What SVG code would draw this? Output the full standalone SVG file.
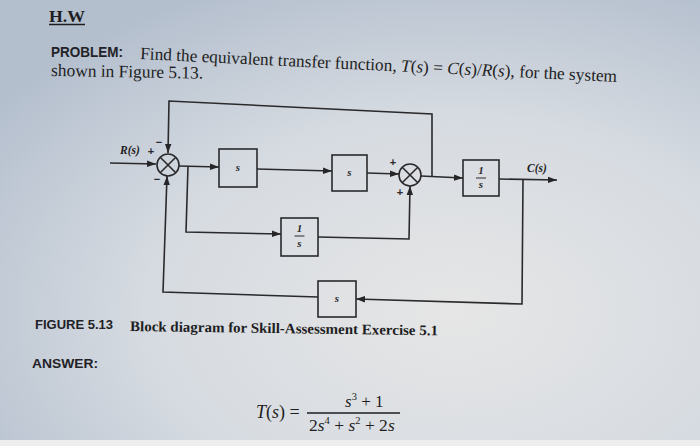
<svg xmlns="http://www.w3.org/2000/svg" width="700" height="446" viewBox="0 0 700 446">
<defs>
<radialGradient id="bg" cx="0.65" cy="0.7" r="0.8">
<stop offset="0" stop-color="#e6e6e6"/>
<stop offset="0.55" stop-color="#d6dbe1"/>
<stop offset="1" stop-color="#b4bfce"/>
</radialGradient>
<marker id="arr" markerWidth="10" markerHeight="8" refX="9" refY="4" orient="auto" markerUnits="userSpaceOnUse">
<path d="M0,0.8 L9,4 L0,7.2 Z" fill="#262628"/>
</marker>
<style>
.ln{fill:none;stroke:#2a2a2c;stroke-width:1.6}
.blk{fill:none;stroke:#2a2a2c;stroke-width:1.6}
.sj{fill:none;stroke:#2a2a2c;stroke-width:1.6}
.ser{font-family:"Liberation Serif",serif;fill:#1e1e22}
.san{font-family:"Liberation Sans",sans-serif;font-weight:bold;fill:#222226}
.it{font-style:italic}
.bs{font-family:"Liberation Serif",serif;font-style:italic;font-weight:bold;font-size:11px;fill:#2a2a2c;text-anchor:middle}
.sg{font-family:"Liberation Sans",sans-serif;font-size:11px;font-weight:bold;fill:#2a2a2c;text-anchor:middle}
</style>
</defs>
<rect width="700" height="446" fill="url(#bg)"/>
<rect y="440" width="700" height="6" fill="#eeeeee"/>

<g id="header">
<text class="ser" x="49" y="22" font-size="17.5" font-weight="bold" textLength="36" lengthAdjust="spacingAndGlyphs">H.W</text>
<line x1="49" y1="24.5" x2="85" y2="24.5" stroke="#1e1e22" stroke-width="1.4"/>
<text class="san" x="51" y="57" font-size="14.5" textLength="72" lengthAdjust="spacingAndGlyphs">PROBLEM:</text>
<text class="ser" x="140" y="59" font-size="17.3" transform="rotate(2.76 140 59)">Find the equivalent transfer function, <tspan class="it">T</tspan>(<tspan class="it">s</tspan>) = <tspan class="it">C</tspan>(<tspan class="it">s</tspan>)/<tspan class="it">R</tspan>(<tspan class="it">s</tspan>), for the system</text>
<text class="ser" x="51" y="76" font-size="17.5" transform="rotate(1 51 76)" textLength="152" lengthAdjust="spacingAndGlyphs">shown in Figure 5.13.</text>
</g>

<g id="connectors">
<line class="ln" x1="110" y1="163" x2="156" y2="164" marker-end="url(#arr)"/>
<polyline class="ln" points="432,176 432,114 169,101 168,153" marker-end="url(#arr)"/>
<line class="ln" x1="179" y1="166" x2="219" y2="167" marker-end="url(#arr)"/>
<polyline class="ln" points="188,166 186,232 281,234" marker-end="url(#arr)"/>
<line class="ln" x1="257" y1="169" x2="332" y2="171" marker-end="url(#arr)"/>
<polyline class="ln" points="318,237 409,239 410,186" marker-end="url(#arr)"/>
<line class="ln" x1="367" y1="173" x2="399" y2="174" marker-end="url(#arr)"/>
<line class="ln" x1="421" y1="176" x2="463" y2="178" marker-end="url(#arr)"/>
<line class="ln" x1="499" y1="179" x2="557" y2="180" marker-end="url(#arr)"/>
<polyline class="ln" points="523,180 522,304 356,299" marker-end="url(#arr)"/>
<polyline class="ln" points="318,297 163,292 167,176" marker-end="url(#arr)"/>
</g>

<g id="sum1">
<circle class="sj" cx="168" cy="165" r="11"/>
<line class="sj" x1="160.2" y1="157.2" x2="175.8" y2="172.8"/>
<line class="sj" x1="175.8" y1="157.2" x2="160.2" y2="172.8"/>
<text class="sg" x="151" y="155">+</text>
<text class="sg" x="159" y="146">−</text>
<text class="sg" x="157" y="183">−</text>
<text class="ser it" x="120" y="154" font-size="11.5" font-weight="bold">R(s)</text>
</g>

<g id="block1">
<rect class="blk" x="219" y="149" width="38" height="38"/>
<text class="bs" x="238" y="171">s</text>
</g>

<g id="block2">
<rect class="blk" x="332" y="155" width="35" height="36"/>
<text class="bs" x="349.5" y="176">s</text>
</g>

<g id="sum2">
<circle class="sj" cx="410" cy="175" r="11"/>
<line class="sj" x1="402.2" y1="167.2" x2="417.8" y2="182.8"/>
<line class="sj" x1="417.8" y1="167.2" x2="402.2" y2="182.8"/>
<text class="sg" x="393" y="166">+</text>
<text class="sg" x="400" y="196">+</text>
</g>

<g id="block3">
<rect class="blk" x="463" y="160" width="36" height="36"/>
<text class="bs" x="481" y="174">1</text>
<line x1="476" y1="178" x2="486" y2="178" stroke="#2a2a2c" stroke-width="1"/>
<text class="bs" x="481" y="188">s</text>
<text class="ser it" x="527" y="172" font-size="11.5" font-weight="bold">C(s)</text>
</g>

<g id="block4">
<rect class="blk" x="281" y="218" width="37" height="38"/>
<text class="bs" x="299.5" y="232">1</text>
<line x1="294.5" y1="236" x2="304.5" y2="236" stroke="#2a2a2c" stroke-width="1"/>
<text class="bs" x="299.5" y="247">s</text>
</g>

<g id="block5">
<rect class="blk" x="318" y="281" width="38" height="36"/>
<text class="bs" x="337" y="302">s</text>
</g>

<g id="caption">
<text class="san" x="35" y="329" font-size="13" textLength="78" lengthAdjust="spacingAndGlyphs">FIGURE 5.13</text>
<text class="ser" x="130" y="331" font-size="14.5" font-weight="bold" transform="rotate(0.8 130 331)" textLength="308" lengthAdjust="spacingAndGlyphs">Block diagram for Skill-Assessment Exercise 5.1</text>
<text class="san" x="32" y="368" font-size="13.5" textLength="66" lengthAdjust="spacingAndGlyphs">ANSWER:</text>
</g>

<g id="answer">
<text class="ser" x="256" y="418" font-size="18"><tspan class="it">T</tspan>(<tspan class="it">s</tspan>) =</text>
<line x1="307" y1="413" x2="400" y2="413" stroke="#1e1e22" stroke-width="1.3"/>
<text class="ser" x="345" y="407" font-size="17"><tspan class="it">s</tspan><tspan font-size="10.5" dy="-7">3</tspan><tspan dy="7"> + 1</tspan></text>
<text class="ser" x="309" y="431" font-size="17.5">2<tspan class="it">s</tspan><tspan font-size="10.5" dy="-7">4</tspan><tspan dy="7"> + </tspan><tspan class="it">s</tspan><tspan font-size="10.5" dy="-7">2</tspan><tspan dy="7"> + 2</tspan><tspan class="it">s</tspan></text>
</g>
</svg>
